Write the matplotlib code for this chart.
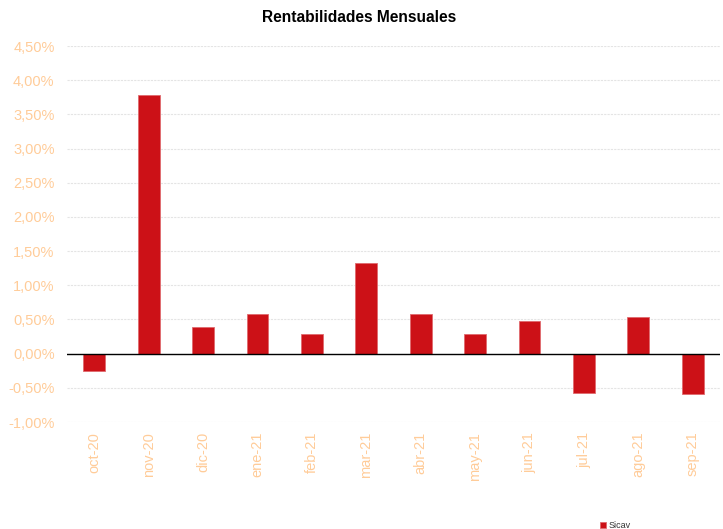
import matplotlib
matplotlib.use("Agg")
import matplotlib.pyplot as plt
from matplotlib.ticker import FuncFormatter, MultipleLocator

plt.rcParams['font.family'] = ['Liberation Sans', 'DejaVu Sans']

months = ["oct-20", "nov-20", "dic-20", "ene-21", "feb-21", "mar-21",
          "abr-21", "may-21", "jun-21", "jul-21", "ago-21", "sep-21"]
sicav = [-0.25, 3.79, 0.39, 0.58, 0.28, 1.33, 0.58, 0.28, 0.48, -0.57, 0.53, -0.59]

label_color = "#FFCC99"
bar_color = "#CC1117"

fig = plt.figure(figsize=(7.23, 5.29), dpi=100)
ax = fig.add_axes([67 / 723, 1 - 422 / 529, (720 - 67) / 723, (422 - 46) / 529])

x = range(len(months))
ax.bar(x, sicav, width=0.4, color=bar_color, edgecolor="#E06A6E", linewidth=0.6,
       label="Sicav", zorder=3)

ax.set_ylim(-1.0, 4.5)
ax.set_xlim(-0.5, len(months) - 0.5)
ax.yaxis.set_major_locator(MultipleLocator(0.5))
ax.yaxis.set_major_formatter(FuncFormatter(lambda v, p: f"{v:.2f}%".replace(".", ",")))
ax.grid(axis="y", color="#E4E4E4", linestyle=(0, (2, 1)), linewidth=0.8, zorder=0)
ax.axhline(0, color="black", linewidth=1.0, zorder=4)

for s in ax.spines.values():
    s.set_visible(False)

ax.set_xticks(list(x))
ax.set_xticklabels(months, rotation=90, color=label_color, fontsize=10.5)
ax.tick_params(axis="x", length=0, pad=7)
ax.tick_params(axis="y", length=0, pad=9, labelcolor=label_color, labelsize=10.5)

fig.text(359 / 723, 1 - 17 / 529, "Rentabilidades Mensuales", fontsize=11.2,
         fontweight="bold", ha="center", va="center")

fig.legend(loc="lower left", bbox_to_anchor=(592 / 723, -0.018), frameon=False,
           fontsize=6.5, handlelength=0.6, handleheight=0.6, handletextpad=0.3,
           labelcolor="#333333")

fig.savefig("out.png", dpi=100)
